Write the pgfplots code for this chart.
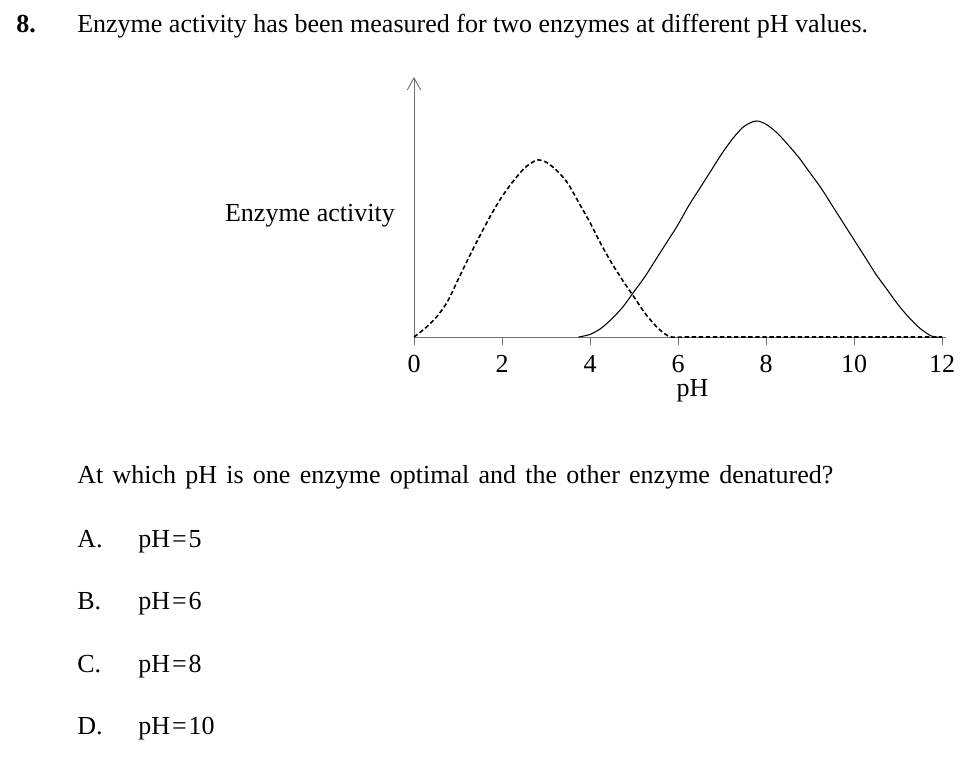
\documentclass[border=0pt]{standalone}
\usepackage{pgfplots}
\pgfplotsset{compat=1.18}
\usetikzlibrary{arrows.meta}
\usepackage{fontspec}
\setmainfont{Liberation Serif}
\definecolor{axisgray}{HTML}{707070}
\begin{document}
\fontsize{19.5}{23}\selectfont
\begin{tikzpicture}
\def\px{0.75pt}
\path[use as bounding box] (0,0) rectangle (966*\px,-756*\px);
\node[anchor=base west, inner sep=0, font=\bfseries] at (16*\px,-33*\px) {8.};
\node[anchor=base west, inner sep=0] at (77*\px,-33*\px) {Enzyme activity has been measured for two enzymes at different pH values.};
\node[anchor=base east, inner sep=0] at (395*\px,-221*\px) {Enzyme activity};
\node[anchor=base, inner sep=0] at (692.5*\px,-396*\px) {pH};
\node[anchor=base west, inner sep=0] at (77*\px,-483*\px) {\makebox[567pt][s]{At which pH is one enzyme optimal and the other enzyme denatured?}};
\foreach \l/\v/\y in {A./5/547, B./6/609, C./8/672, D./10/734}{
  \node[anchor=base west, inner sep=0] at (77*\px,-\y*\px) {\l};
  \node[anchor=base west, inner sep=0] at (138*\px,-\y*\px) {pH\kern1.5pt=\kern1.5pt\v};
}
\begin{axis}[
  at={(414*\px,-337*\px)}, anchor=south west,
  x=33pt, y=162pt,
  xmin=0, xmax=12.08, ymin=0, ymax=1.204,
  axis x line=bottom, axis y line=left,
  axis line style={draw=axisgray, line width=0.7pt},
  x axis line style={-},
  y axis line style={-{Straight Barb[length=9pt,width=10pt]}},
  xtick={0,2,...,12}, ytick=\empty,
  tick align=outside, major tick length=6pt,
  tick style={draw=axisgray, line width=0.7pt},
  xticklabel style={font=\fontsize{19.5}{23}\selectfont, text=black, inner sep=0pt, anchor=base, yshift=-20.5pt},
  /pgf/number format/assume math mode=true,
  clip=false,
]
\addplot[black, line width=1.2pt, dash pattern=on 3.3pt off 2pt, smooth] coordinates {
(0,0) (0.25,0.04) (0.5,0.09) (0.75,0.16) (1.0,0.265) (1.25,0.37) (1.5,0.47) (1.75,0.565) (2.0,0.65) (2.25,0.72) (2.5,0.78) (2.7,0.81) (2.82,0.82) (3.0,0.81) (3.25,0.77) (3.5,0.71) (3.75,0.62) (4.0,0.53) (4.25,0.43) (4.5,0.34) (4.75,0.26) (5.0,0.185) (5.25,0.11) (5.5,0.05) (5.7,0.015) (5.85,0) (6.2,0) (7,0) (9,0) (12,0)
};
\addplot[black, line width=0.8pt, smooth] coordinates {
(3.74,0) (4.0,0.012) (4.25,0.04) (4.5,0.085) (4.75,0.14) (5.0,0.21) (5.25,0.28) (5.5,0.36) (5.75,0.44) (6.0,0.52) (6.25,0.61) (6.5,0.69) (6.75,0.77) (7.0,0.85) (7.25,0.92) (7.5,0.975) (7.77,1.0) (8.0,0.985) (8.25,0.945) (8.5,0.89) (8.75,0.83) (9.0,0.76) (9.25,0.69) (9.5,0.61) (9.75,0.53) (10.0,0.45) (10.25,0.37) (10.5,0.29) (10.75,0.22) (11.0,0.15) (11.25,0.09) (11.5,0.04) (11.75,0.005) (11.85,0) (12.0,0)
};
\end{axis}
\end{tikzpicture}
\end{document}
